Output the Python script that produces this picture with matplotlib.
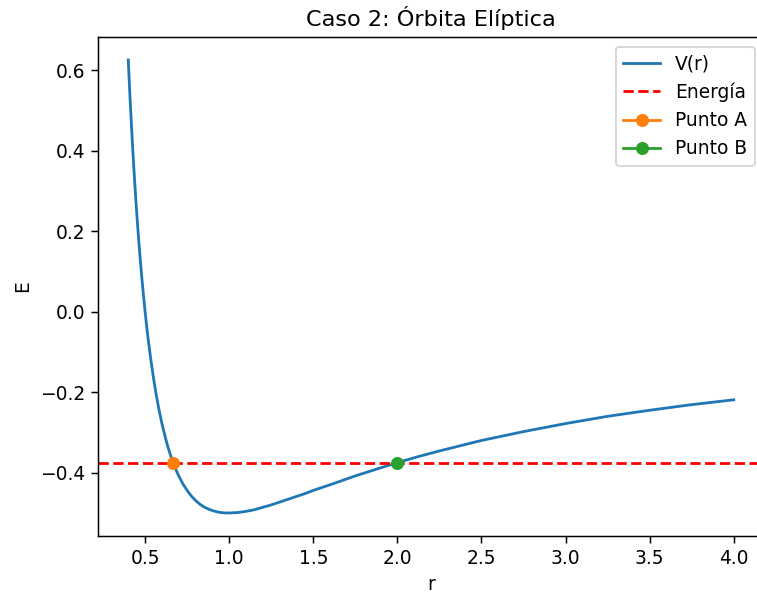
import numpy as np
import matplotlib.pyplot as plt

# V(r) values
r_vals = [0.40, 0.405, 0.41, 0.415, 0.42, 0.425, 0.43, 0.435, 0.44, 0.445,
          0.45, 0.455, 0.46, 0.465, 0.47, 0.475, 0.48, 0.49, 0.50, 0.51,
          0.52, 0.535, 0.55, 0.565, 0.58, 0.60, 0.62, 0.635, 0.65, 0.667,
          0.685, 0.70, 0.725, 0.75, 0.775, 0.80, 0.825, 0.85, 0.875, 0.90,
          0.925, 0.95, 0.975, 1.00, 1.05, 1.10, 1.15, 1.20, 1.25, 1.30,
          1.35, 1.40, 1.45, 1.50, 1.60, 1.675, 1.75, 1.825, 1.90, 2.00,
          2.125, 2.25, 2.375, 2.50, 2.75, 3.00, 3.25, 3.50, 3.75, 4.00]
v_vals = [0.625, 0.579, 0.535, 0.494, 0.454, 0.415, 0.379, 0.344, 0.310, 0.278,
          0.247, 0.217, 0.189, 0.162, 0.136, 0.111, 0.087, 0.042, 0.000, -0.039,
          -0.074, -0.122, -0.165, -0.204, -0.238, -0.278, -0.312, -0.335, -0.355, -0.375,
          -0.394, -0.408, -0.428, -0.444, -0.458, -0.469, -0.478, -0.485, -0.490, -0.494,
          -0.497, -0.499, -0.500, -0.500, -0.499, -0.496, -0.492, -0.486, -0.480, -0.473,
          -0.466, -0.459, -0.452, -0.444, -0.430, -0.419, -0.408, -0.398, -0.388, -0.375,
          -0.360, -0.346, -0.333, -0.320, -0.298, -0.278, -0.260, -0.245, -0.231, -0.219]

energia = -0.375
punto_a = (0.667, -0.375)
punto_b = (2.0, -0.375)

dpi = 134
fig = plt.figure(figsize=(757 / dpi, 594 / dpi), dpi=dpi)
ax = fig.add_axes([98 / 757, 58.4 / 594, 666 / 757, 498.3 / 594])

ax.plot(r_vals, v_vals, label="V(r)")
ax.axhline(energia, color="r", linestyle="--", label="Energía")
ax.plot([punto_a[0]], [punto_a[1]], marker="o", color="C1", label="Punto A")
ax.plot([punto_b[0]], [punto_b[1]], marker="o", color="C2", label="Punto B")

ax.set_title("Caso 2: Órbita Elíptica")
ax.set_xlabel("r")
ax.set_ylabel("E")
ax.legend(loc="upper right")

fig.savefig("out.png", dpi=dpi)
